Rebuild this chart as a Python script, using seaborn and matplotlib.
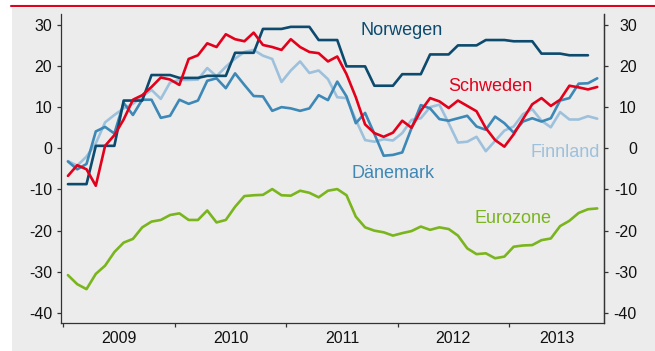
import numpy as np
import pandas as pd
import matplotlib
matplotlib.use("Agg")
import matplotlib.pyplot as plt
from matplotlib.patches import Rectangle
from matplotlib.lines import Line2D
import seaborn as sns

# Monthly survey balances, January 2009 onwards
years = ["2009", "2010", "2011", "2012", "2013"]

norwegen = [-8.7, -8.7, -8.7, 0.6, 0.6, 0.6, 11.6, 11.6, 11.6, 17.8, 17.8, 17.8,
            17.1, 17.1, 17.1, 17.6, 17.6, 17.6, 23.2, 23.2, 23.2, 29.0, 29.0, 29.0,
            29.5, 29.5, 29.5, 26.3, 26.3, 26.3, 19.9, 19.9, 19.9, 15.2, 15.2, 15.2,
            18.0, 18.0, 18.0, 22.8, 22.8, 22.8, 25.0, 25.0, 25.0, 26.3, 26.3, 26.3,
            26.0, 26.0, 26.0, 23.0, 23.0, 23.0, 22.6, 22.6, 22.6]

schweden = [-6.7, -4.1, -5.1, -9.1, 0.6, 3.2, 7.0, 11.8, 12.9, 14.9, 17.2, 16.7,
            15.4, 21.7, 22.6, 25.5, 24.6, 27.7, 26.5, 26.0, 28.1, 25.1, 24.6, 23.9,
            26.5, 24.6, 23.4, 23.1, 21.1, 22.3, 18.0, 12.4, 5.8, 3.7, 2.8, 3.8,
            6.7, 5.0, 9.1, 12.2, 11.4, 9.8, 11.6, 10.3, 9.0, 4.9, 2.0, 0.4,
            3.4, 7.1, 10.7, 12.2, 10.3, 11.8, 15.2, 14.8, 14.3, 14.9]

daenemark = [-3.2, -5.1, -3.8, 4.1, 5.2, 3.6, 11.0, 8.1, 11.8, 11.8, 7.4, 7.9,
             11.8, 10.8, 11.6, 16.4, 17.0, 14.6, 18.2, 15.4, 12.7, 12.6, 9.1, 10.0,
             9.7, 9.1, 9.7, 12.9, 11.7, 16.2, 12.6, 6.1, 8.6, 3.5, -1.8, -1.6,
             -1.0, 4.9, 10.5, 9.7, 7.1, 6.7, 7.3, 7.9, 5.3, 4.5, 7.7, 6.1,
             3.8, 6.5, 7.3, 6.5, 7.3, 11.6, 12.2, 15.7, 15.8, 17.0]

finnland = [-3.1, -4.2, -2.0, 1.2, 6.3, 8.1, 9.7, 10.8, 12.6, 14.2, 12.0, 16.0,
            16.6, 16.6, 16.7, 19.5, 17.5, 19.8, 21.8, 23.4, 23.9, 22.5, 21.7, 16.1,
            18.9, 21.1, 18.3, 18.9, 16.8, 12.4, 12.2, 6.9, 2.0, 1.6, 2.2, 1.9,
            3.7, 6.9, 7.3, 10.0, 10.6, 6.1, 1.4, 1.6, 2.8, -0.7, 1.8, 4.3,
            5.3, 8.3, 9.5, 6.7, 5.1, 8.8, 7.0, 7.0, 7.8, 7.2]

eurozone = [-30.8, -33.0, -34.2, -30.5, -28.5, -25.2, -22.9, -22.0, -19.2, -17.8, -17.4, -16.2,
            -15.8, -17.4, -17.4, -15.1, -18.0, -17.4, -14.2, -11.6, -11.4, -11.3, -9.9, -11.4,
            -11.5, -10.3, -10.8, -11.9, -10.3, -9.9, -11.4, -16.6, -19.2, -20.0, -20.4, -21.2,
            -20.6, -20.1, -19.0, -19.8, -19.2, -19.6, -21.2, -24.3, -25.7, -25.5, -26.7, -26.3,
            -23.9, -23.6, -23.5, -22.3, -21.9, -18.9, -17.6, -15.7, -14.8, -14.6]

series = {
    "Eurozone": eurozone,
    "Finnland": finnland,
    "Dänemark": daenemark,
    "Norwegen": norwegen,
    "Schweden": schweden,
}
palette = {
    "Eurozone": "#7ab51d",
    "Finnland": "#9dc1dc",
    "Dänemark": "#3d88b6",
    "Norwegen": "#0c4a6e",
    "Schweden": "#e3001b",
}

df = pd.concat(
    [pd.DataFrame({"Monat": np.arange(len(v)) + 0.5, "Wert": v, "Land": k})
     for k, v in series.items()],
    ignore_index=True,
)

sns.set_style("ticks")
plt.rcParams["font.family"] = ["Liberation Sans", "DejaVu Sans"]
plt.rcParams["axes.unicode_minus"] = False

W, H = 655, 351
fig = plt.figure(figsize=(W / 100, H / 100), dpi=100)
fig.patch.set_facecolor("white")

# grey panel and red rule along the top
fig.add_artist(Rectangle((12 / W, 0), 1 - 12 / W, 1 - 8 / H, transform=fig.transFigure,
                         facecolor="#ececec", edgecolor="none", zorder=-2))
fig.add_artist(Line2D([11 / W, 1], [1 - 5.8 / H] * 2, transform=fig.transFigure,
                      color="#e3001b", lw=1.5, zorder=-1))

left, right, top, bottom = 60.7, 604.3, 14.5, 323.3
ax = fig.add_axes([left / W, 1 - bottom / H, (right - left) / W, (bottom - top) / H])
ax.set_facecolor("none")

sns.lineplot(data=df, x="Monat", y="Wert", hue="Land", hue_order=list(series),
             palette=palette, linewidth=1.9, legend=False, ax=ax)

xmin, xmax = -0.28, 58.26
ymin, ymax = -42.5, 32.5
ax.set_xlim(xmin, xmax)
ax.set_ylim(ymin, ymax)
ax.set_xlabel("")
ax.set_ylabel("")

spine_col = "#333333"
for s in ["left", "bottom", "right"]:
    ax.spines[s].set_color(spine_col)
    ax.spines[s].set_linewidth(0.9)
ax.spines["top"].set_visible(False)

yticks = list(range(-40, 31, 10))
ax.set_yticks(yticks)
ax.tick_params(axis="y", direction="out", length=3.1, width=0.9, pad=3.0,
               labelsize=11.5, colors=spine_col, labelcolor="#111111")

# year ticks at year boundaries, labels centred in each year
ax.set_xticks([0, 12, 24, 36, 48])
ax.set_xticklabels([])
label_pos = [6, 18, 30, 42, (48 + xmax) / 2]
ax.set_xticks(label_pos, minor=True)
ax.set_xticklabels(years, minor=True)
ax.tick_params(axis="x", which="major", direction="out", length=3.1, width=0.9,
               colors=spine_col)
ax.tick_params(axis="x", which="minor", length=0, pad=5.5, labelsize=11.5,
               labelcolor="#111111")

ax2 = ax.twinx()
ax2.set_ylim(ymin, ymax)
ax2.set_yticks(yticks)
ax2.tick_params(axis="y", direction="out", length=3.2, width=0.9, pad=20.3,
                labelsize=11.5, colors=spine_col, labelcolor="#111111")
for lbl in ax2.get_yticklabels():
    lbl.set_horizontalalignment("right")
for s in ["top", "left", "bottom"]:
    ax2.spines[s].set_visible(False)
ax2.spines["right"].set_color(spine_col)
ax2.spines["right"].set_linewidth(0.9)

# series names next to their lines
labels = [
    ("Norwegen", 36.4, 27.4),
    ("Schweden", 46.0, 13.8),
    ("Finnland", 54.0, -2.1),
    ("Dänemark", 35.5, -7.1),
    ("Eurozone", 48.4, -18.1),
]
for name, x, y in labels:
    ax.text(x, y, name, ha="center", va="baseline", fontsize=13, color=palette[name])

fig.savefig("out.png", dpi=100)
